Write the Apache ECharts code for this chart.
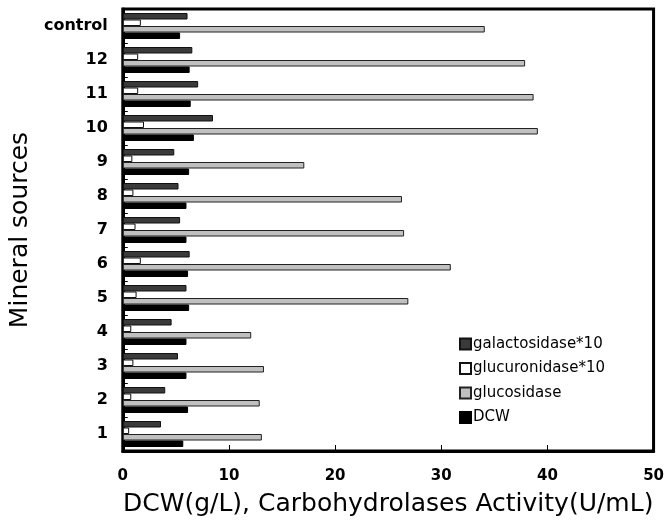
<!DOCTYPE html>
<html>
<head>
<meta charset="utf-8">
<script src="https://cdn.jsdelivr.net/npm/echarts@6/dist/echarts.min.js"></script>
<style>html,body{margin:0;padding:0;background:#fff;}#c{width:667px;height:522px;}</style>
</head>
<body>
<div id="c"></div>
<script>
const categories = ['1','2','3','4','5','6','7','8','9','10','11','12','control'];
const galactosidase = [3.6, 4.0, 5.2, 4.6, 6.0, 6.3, 5.4, 5.25, 4.85, 8.5, 7.1, 6.55, 6.1];
const glucuronidase = [0.6, 0.8, 1.0, 0.8, 1.3, 1.7, 1.2, 1.0, 0.9, 2.0, 1.45, 1.45, 1.7];
const glucosidase = [13.1, 12.9, 13.3, 12.1, 26.9, 30.9, 26.5, 26.3, 17.1, 39.1, 38.7, 37.9, 34.1];
const dcw = [5.7, 6.15, 6.0, 6.0, 6.25, 6.15, 6.0, 6.0, 6.25, 6.7, 6.4, 6.3, 5.4];
const xTicks = [0, 10, 20, 30, 40, 50];

const chart = echarts.init(document.getElementById('c'), null, {renderer: 'canvas'});
const font = 'DejaVu Sans';
function bar(name, data, fill, border) {
  return {
    name: name, type: 'bar', data: data, barWidth: 6.5, barGap: '0%',
    itemStyle: {color: fill, borderColor: border, borderWidth: 1},
    animation: false
  };
}
chart.setOption({
  animation: false,
  grid: {left: 122, right: 13, top: 9, bottom: 70, show: true, borderColor: '#000', borderWidth: 3, backgroundColor: 'transparent'},
  xAxis: {
    type: 'value', min: xTicks[0], max: xTicks[xTicks.length - 1], interval: 10,
    name: 'DCW(g/L), Carbohydrolases Activity(U/mL)', nameLocation: 'middle', nameGap: 41,
    nameTextStyle: {fontFamily: font, fontSize: 25, color: '#000'},
    axisLine: {show: true, lineStyle: {color: '#000', width: 3}},
    axisTick: {show: true, inside: true, length: 6, lineStyle: {color: '#000', width: 1}},
    axisLabel: {fontFamily: font, fontWeight: 'bold', fontSize: 15, color: '#000', margin: 18},
    splitLine: {show: false}
  },
  yAxis: {
    type: 'category', data: categories,
    name: 'Mineral sources', nameLocation: 'middle', nameGap: 88, nameRotate: 90,
    nameTextStyle: {fontFamily: font, fontSize: 25, color: '#000'},
    axisLine: {show: true, lineStyle: {color: '#000', width: 3}},
    axisTick: {show: true, inside: true, length: 5, lineStyle: {color: '#000', width: 1}},
    axisLabel: {fontFamily: font, fontWeight: 'bold', fontSize: 16, color: '#000', margin: 15},
    splitLine: {show: false}
  },
  legend: {
    orient: 'vertical', left: 454, top: 330, itemWidth: 11, itemHeight: 11, itemGap: 6.5,
    icon: 'rect',
    data: ['galactosidase*10', 'glucuronidase*10', 'glucosidase', 'DCW'],
    textStyle: {fontFamily: font, fontSize: 15, lineHeight: 18, color: '#000', padding: [0, 0, 0, -3]}
  },
  series: [
    bar('galactosidase*10', galactosidase, '#3a3a3a', '#111'),
    bar('glucuronidase*10', glucuronidase, '#ffffff', '#111'),
    bar('glucosidase', glucosidase, '#c0c0c0', '#222'),
    bar('DCW', dcw, '#000000', '#000')
  ]
});
</script>
</body>
</html>
